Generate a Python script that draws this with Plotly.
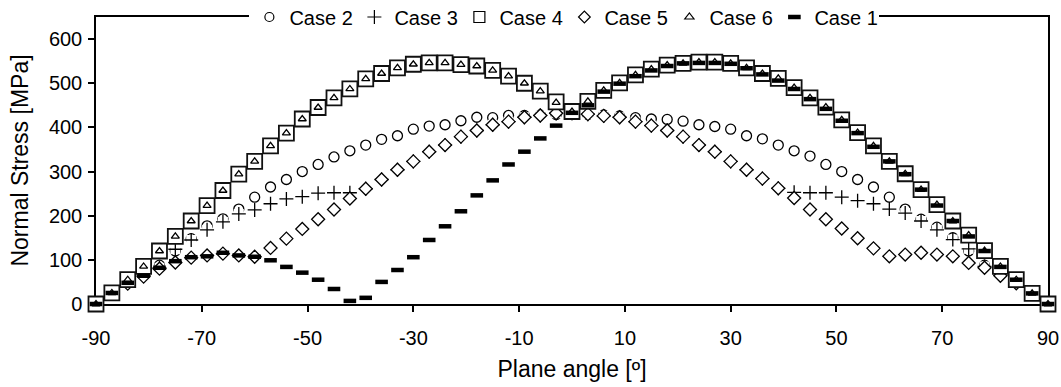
import plotly.graph_objects as go

angles = [-90, -87, -84, -81, -78, -75, -72, -69, -66, -63, -60, -57, -54, -51, -48, -45,
          -42, -39, -36, -33, -30, -27, -24, -21, -18, -15, -12, -9, -6, -3, 0,
          3, 6, 9, 12, 15, 18, 21, 24, 27, 30, 33, 36, 39, 42, 45,
          48, 51, 54, 57, 60, 63, 66, 69, 72, 75, 78, 81, 84, 87, 90]

case1 = [0, 25, 48, 64, 82, 97, 106, 108, 116, 110, 107, 99, 84, 71, 55, 34,
         7, 14, 50, 77, 106, 145, 176, 210, 246, 280, 316, 345, 375, 404, 433,
         450, 481, 499, 516, 529, 539, 545, 546, 546, 544, 534, 520, 506, 487, 464,
         442, 415, 387, 356, 323, 294, 259, 223, 188, 153, 120, 84, 55, 24, 0]

case2 = [0, 25, 50, 66, 88, 120, 148, 177, 193, 215, 242, 265, 282, 300, 316, 333,
         347, 360, 373, 381, 396, 403, 406, 415, 423, 422, 427, 427, 428, 429, 430,
         429, 428, 426, 422, 419, 418, 414, 406, 402, 396, 381, 374, 360, 347, 335,
         316, 300, 282, 265, 242, 215, 192, 174, 150, 120, 88, 66, 50, 25, 0]

case3 = [0, 25, 50, 65, 82, 124, 145, 168, 186, 204, 213, 227, 238, 243, 251, 252,
         252, 261, 282, 304, 323, 345, 360, 379, 393, 406, 413, 423, 427, 432, 433,
         430, 426, 423, 413, 404, 393, 379, 360, 345, 323, 304, 284, 262, 253, 252,
         252, 242, 234, 227, 215, 206, 188, 168, 146, 125, 85, 65, 50, 25, 0]

case4 = [0, 25, 55, 85, 120, 153, 188, 223, 257, 294, 323, 358, 387, 419, 445, 467,
         487, 510, 522, 535, 543, 546, 546, 542, 539, 529, 516, 500, 482, 458, 436,
         459, 484, 501, 519, 532, 541, 545, 548, 548, 545, 535, 522, 511, 490, 467,
         446, 417, 388, 358, 323, 295, 259, 225, 188, 156, 121, 85, 55, 24, 0]

case5 = [0, 25, 46, 62, 80, 94, 105, 110, 114, 110, 107, 127, 148, 170, 192, 214,
         239, 261, 282, 304, 323, 345, 360, 379, 393, 406, 413, 423, 427, 432, 432,
         430, 426, 423, 413, 404, 393, 379, 360, 345, 323, 304, 284, 262, 240, 214,
         192, 171, 149, 126, 108, 112, 116, 112, 108, 93, 82, 64, 47, 25, 0]

case6 = [0, 25, 55, 85, 120, 153, 188, 223, 257, 294, 323, 358, 387, 419, 445, 467,
         487, 510, 522, 535, 543, 546, 546, 542, 539, 529, 516, 500, 482, 456, 436,
         459, 484, 501, 519, 532, 541, 545, 548, 548, 545, 535, 522, 511, 490, 467,
         446, 417, 388, 358, 323, 295, 259, 225, 188, 156, 121, 85, 55, 24, 0]

x_ticks = [-90, -70, -50, -30, -10, 10, 30, 50, 70, 90]
y_ticks = [0, 100, 200, 300, 400, 500, 600]

FONT = "Liberation Sans, Arial, sans-serif"
BLK = "#000000"

data = {"Case 1": case1, "Case 2": case2, "Case 3": case3,
        "Case 4": case4, "Case 5": case5, "Case 6": case6}

styles = {
    "Case 2": dict(symbol="circle", size=10, color="white", line=dict(color=BLK, width=1.3)),
    "Case 3": dict(symbol="cross-thin", size=10, color=BLK, line=dict(color=BLK, width=1.3)),
    "Case 5": dict(symbol="diamond", size=10, color="white", line=dict(color=BLK, width=1.3)),
    "Case 4": dict(symbol="square", size=15, color="white", line=dict(color="#111", width=1.8)),
    "Case 6": dict(symbol="triangle-up", size=7, color="white", line=dict(color=BLK, width=1.3)),
    "Case 1": dict(symbol="line-ew", size=9, color=BLK, line=dict(color=BLK, width=4.5)),
}

legend_styles = {
    "Case 2": dict(symbol="circle", size=9, color="white", line=dict(color=BLK, width=1.2)),
    "Case 3": dict(symbol="cross-thin", size=10, color=BLK, line=dict(color=BLK, width=1.2)),
    "Case 4": dict(symbol="square", size=11, color="white", line=dict(color=BLK, width=1.2)),
    "Case 5": dict(symbol="diamond", size=9, color="white", line=dict(color=BLK, width=1.2)),
    "Case 6": dict(symbol="triangle-up", size=8, color="white", line=dict(color=BLK, width=1.2)),
    "Case 1": dict(symbol="line-ew", size=9, color=BLK, line=dict(color=BLK, width=4.5)),
}

fig = go.Figure()
# circles first
fig.add_trace(go.Scatter(x=angles, y=case2, mode="markers", name="Case 2",
                         marker=styles["Case 2"], showlegend=False, cliponaxis=False,
                         hoverinfo="skip"))
# white backing behind the plus markers (hides parts of circles as in the original)
fig.add_trace(go.Scatter(x=angles, y=case3, mode="markers", name="Case 3 bg",
                         marker=dict(symbol="square", size=10, color="white",
                                     line=dict(width=0)),
                         showlegend=False, cliponaxis=False, hoverinfo="skip"))
for name in ["Case 3", "Case 5", "Case 4", "Case 6", "Case 1"]:
    fig.add_trace(go.Scatter(x=angles, y=data[name], mode="markers", name=name,
                             marker=styles[name], showlegend=False, cliponaxis=False))
for name in ["Case 2", "Case 3", "Case 4", "Case 5", "Case 6", "Case 1"]:
    fig.add_trace(go.Scatter(x=[None], y=[None], mode="markers", name=name,
                             marker=legend_styles[name], showlegend=True))

fig.update_layout(
    width=1061, height=387,
    margin=dict(l=96, r=13, t=17, b=83, autoexpand=False),
    paper_bgcolor="white", plot_bgcolor="white",
    font=dict(family=FONT, size=20, color=BLK),
    showlegend=True,
    legend=dict(orientation="h", x=0.492, xanchor="center", y=1.0, yanchor="middle",
                bgcolor="white", borderwidth=0, font=dict(size=20, family=FONT),
                itemwidth=30, tracegroupgap=0, entrywidth=60, entrywidthmode="pixels"),
    xaxis=dict(range=[-90, 90], tickmode="array", tickvals=x_ticks,
               ticktext=[str(v) for v in x_ticks],
               showgrid=False, zeroline=False, showline=True, linecolor=BLK, linewidth=1.5,
               mirror=True, ticks="outside", ticklen=6, tickwidth=1.5, tickcolor=BLK,
               ticklabelstandoff=9,
               layer="below traces", tickfont=dict(size=20),
               title=dict(text="Plane angle [º]", font=dict(size=23), standoff=13)),
    yaxis=dict(range=[0, 650], tickmode="array", tickvals=y_ticks,
               showgrid=False, zeroline=False, showline=True, linecolor=BLK, linewidth=1.5,
               mirror=True, ticks="outside", ticklen=6, tickwidth=1.5, tickcolor=BLK,
               ticklabelstandoff=2,
               layer="below traces", tickfont=dict(size=20),
               title=dict(text="Normal Stress [MPa]", font=dict(size=23), standoff=14)),
)

fig.write_html("out.html")
